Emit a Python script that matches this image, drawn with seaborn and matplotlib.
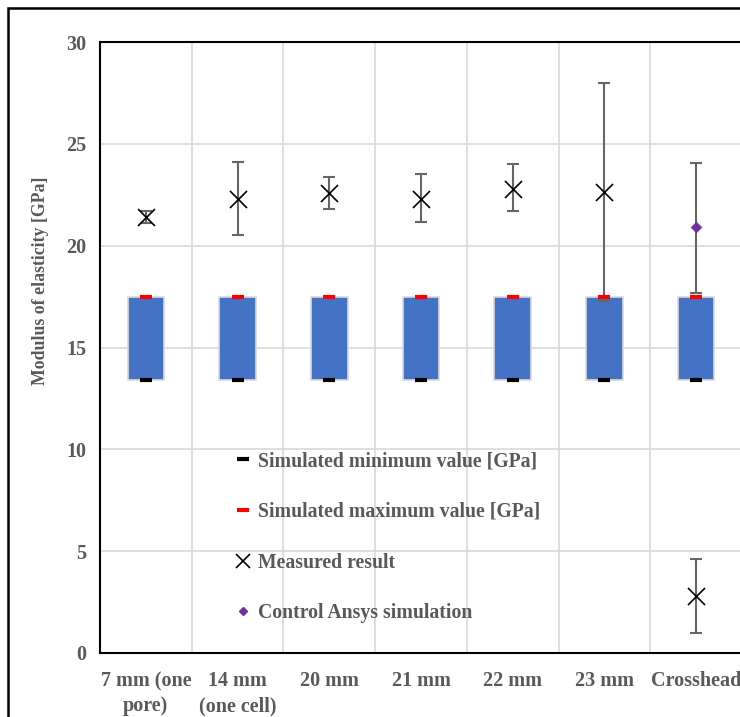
import matplotlib
matplotlib.use("Agg")
import matplotlib.pyplot as plt
import seaborn as sns
import pandas as pd
import numpy as np
from matplotlib.patches import Rectangle
from matplotlib.lines import Line2D

categories = ["7 mm (one\npore)", "14 mm\n(one cell)", "20 mm", "21 mm", "22 mm", "23 mm", "Crosshead"]
sim_min = [13.4, 13.4, 13.4, 13.4, 13.4, 13.4, 13.4]
sim_max = [17.5, 17.5, 17.5, 17.5, 17.5, 17.5, 17.5]
measured = [21.4, 22.3, 22.6, 22.3, 22.8, 22.65, 2.8]
meas_err_low = [0.3, 1.8, 0.8, 1.15, 1.1, 5.35, 1.8]
meas_err_high = [0.3, 1.8, 0.75, 1.2, 1.2, 5.35, 1.8]
control_cat = ["Crosshead"]
control_val = [20.9]
control_err_low = [3.2]
control_err_high = [3.15]
yticks = [0, 5, 10, 15, 20, 25, 30]

sns.set_theme(style="whitegrid")
plt.rcParams["font.family"] = ["Liberation Serif", "DejaVu Serif"]
plt.rcParams["font.weight"] = "bold"

fig = plt.figure(figsize=(7.4, 7.17), dpi=100)
ax = fig.add_axes([100/740, 64/717, 642/740, 611/717])

x = np.arange(len(categories))

# floating bars
ax.bar(x, np.array(sim_max) - np.array(sim_min), bottom=sim_min, width=0.4,
       color="#4472C4", edgecolor="#D9D9D9", linewidth=1.2, zorder=2)

# error bars
ax.errorbar(x, measured, yerr=[meas_err_low, meas_err_high], fmt="none",
            ecolor="#666666", elinewidth=1.5, capsize=4.5, capthick=1.5, zorder=3)
ci = [categories.index(c) for c in control_cat]
ax.errorbar(ci, control_val, yerr=[control_err_low, control_err_high], fmt="none",
            ecolor="#666666", elinewidth=1.5, capsize=4.5, capthick=1.5, zorder=3)

sns.scatterplot(x=x, y=sim_min, marker="_", s=80, color="black", linewidth=3, ax=ax, zorder=4)
sns.scatterplot(x=x, y=sim_max, marker="_", s=80, color="#FF0000", linewidth=3, ax=ax, zorder=4)
sns.scatterplot(x=x, y=measured, marker="x", s=150, color="black", linewidth=1.2, ax=ax, zorder=5)
sns.scatterplot(x=ci, y=control_val, marker="D", s=30, color="#7030A0", edgecolor="#7030A0", ax=ax, zorder=5)

ax.set_xlim(-0.5, len(categories) - 0.5)
ax.set_ylim(0, 30)
ax.set_yticks(yticks)
ax.set_xticks(x)
ax.set_xticklabels(categories, fontsize=14.5, fontweight="bold", color="#595959", linespacing=1.35)
ax.set_yticklabels([str(t) for t in yticks], fontsize=14.5, fontweight="bold", color="#595959")
ax.set_xticks(np.arange(-0.5, len(categories)), minor=True)
ax.grid(False)
ax.grid(True, which="minor", axis="x", color="#D9D9D9", linewidth=1.2)
ax.grid(True, which="major", axis="y", color="#D9D9D9", linewidth=1.2)
ax.tick_params(axis="x", which="both", length=0, pad=13)
ax.tick_params(axis="y", which="both", length=0, pad=10)
ax.set_ylabel("Modulus of elasticity [GPa]", fontsize=12.8, fontweight="bold", color="#595959")
ax.yaxis.set_label_coords(-0.080, 0.609)
for s in ax.spines.values():
    s.set_color("black")
    s.set_linewidth(1.5)

handles = [
    Line2D([], [], marker="_", color="black", linestyle="none", markersize=8, markeredgewidth=3),
    Line2D([], [], marker="_", color="#FF0000", linestyle="none", markersize=8, markeredgewidth=3),
    Line2D([], [], marker="x", color="black", linestyle="none", markersize=10, markeredgewidth=1.2),
    Line2D([], [], marker="D", color="#7030A0", linestyle="none", markersize=4.5),
]
labels = ["Simulated minimum value [GPa]", "Simulated maximum value [GPa]",
          "Measured result", "Control Ansys simulation"]
leg = ax.legend(handles, labels, loc="upper left", bbox_to_anchor=(0.21, 0.33),
                frameon=False, labelspacing=1.55, handlelength=0.8,
                handletextpad=0.35, borderpad=0, borderaxespad=0,
                prop={"family": ["Liberation Serif"], "weight": "bold", "size": 14.2})
for t in leg.get_texts():
    t.set_color("#595959")

fig.patches.append(Rectangle((8/740, -0.1), 1.5, 1.1 - 8/717, transform=fig.transFigure,
                             fill=False, edgecolor="black", linewidth=1.8, zorder=0))

fig.savefig("out.png", dpi=100)
